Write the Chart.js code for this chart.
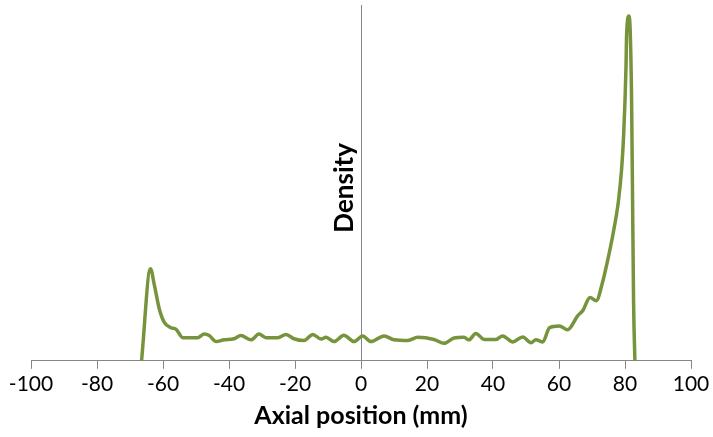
<!DOCTYPE html>
<html>
<head>
<meta charset="utf-8">
<script src="https://cdn.jsdelivr.net/npm/chart.js@4/dist/chart.umd.min.js"></script>
<style>
  html, body { margin: 0; padding: 0; background: #ffffff; }
  canvas { display: block; }
</style>
</head>
<body>
<canvas id="chart" width="713" height="437"></canvas>
<script>
// Axial position along the sample (mm)
const positions = [
  -66.5, -63.8, -62.6, -61.1, -59.6, -57.6, -56.1, -54.0, -49.5, -47.5,
  -46.0, -43.9, -41.5, -38.5, -36.4, -33.3, -30.9, -28.8, -25.2, -22.7,
  -20.3, -17.3, -14.6, -12.1, -10.6, -8.2, -5.2, -2.1, 0.5, 3.0,
  7.0, 10.0, 14.2, 17.2, 22.1, 25.2, 28.2, 31.2, 32.7, 34.8,
  37.3, 40.9, 42.9, 46.0, 49.0, 51.5, 53.0, 55.1, 57.1, 60.1,
  62.6, 65.7, 67.2, 69.4, 71.3, 73.2, 74.5, 76.3, 78.0, 79.0,
  79.6, 80.0, 80.3, 80.5, 81.2, 81.6, 82.0, 82.3, 82.6, 83.0
];

// Relative density at each position
const density = [
  0.000, 0.259, 0.212, 0.145, 0.108, 0.093, 0.089, 0.065, 0.065, 0.075,
  0.071, 0.054, 0.059, 0.062, 0.071, 0.059, 0.075, 0.065, 0.065, 0.074,
  0.062, 0.057, 0.074, 0.061, 0.066, 0.054, 0.072, 0.054, 0.070, 0.054,
  0.070, 0.059, 0.057, 0.066, 0.060, 0.049, 0.064, 0.066, 0.059, 0.077,
  0.060, 0.060, 0.070, 0.053, 0.067, 0.051, 0.059, 0.053, 0.093, 0.098,
  0.087, 0.127, 0.141, 0.178, 0.169, 0.221, 0.272, 0.353, 0.448, 0.542,
  0.637, 0.731, 0.825, 0.920, 0.969, 0.920, 0.731, 0.448, 0.164, 0.000
];

// X axis tick labels
const xTicks = [-100, -80, -60, -40, -20, 0, 20, 40, 60, 80, 100];

const xTitle = 'Axial position (mm)';
const yTitle = 'Density';

const axisGrey = '#868686';
const lineGreen = '#77933C';
const fontFamily = 'Lato, "Liberation Sans", sans-serif';

// Y-axis title drawn beside the axis that crosses at x = 0
const yAxisTitle = {
  id: 'yAxisTitle',
  afterDraw(chart) {
    const { ctx, chartArea, scales } = chart;
    const x0 = scales.x.getPixelForValue(0);
    ctx.save();
    ctx.translate(x0 - 8, (chartArea.top + chartArea.bottom) / 2 + 5);
    ctx.rotate(-Math.PI / 2);
    ctx.font = 'bold 26px ' + fontFamily;
    ctx.fillStyle = '#000000';
    ctx.textAlign = 'center';
    ctx.textBaseline = 'alphabetic';
    ctx.fillText(yTitle, 0, 0);
    ctx.restore();
  }
};

new Chart(document.getElementById('chart'), {
  type: 'line',
  data: {
    datasets: [{
      data: positions.map((x, i) => ({ x: x, y: density[i] })),
      borderColor: lineGreen,
      borderWidth: 3.5,
      pointRadius: 0,
      fill: false,
      cubicInterpolationMode: 'monotone'
    }]
  },
  options: {
    responsive: false,
    animation: false,
    devicePixelRatio: 1,
    layout: { padding: { left: 31, right: 22, top: 5, bottom: 6 } },
    plugins: {
      legend: { display: false },
      tooltip: { enabled: false }
    },
    scales: {
      x: {
        type: 'linear',
        min: -100,
        max: 100,
        afterBuildTicks: (scale) => { scale.ticks = xTicks.map(v => ({ value: v })); },
        ticks: {
          color: '#000000',
          font: { family: fontFamily, size: 21 },
          padding: 3,
          maxRotation: 0
        },
        grid: {
          drawOnChartArea: false,
          tickLength: 8,
          color: axisGrey,
          lineWidth: 1
        },
        border: { color: axisGrey, width: 1 },
        title: {
          display: true,
          text: xTitle,
          color: '#000000',
          font: { family: fontFamily, size: 25, weight: 'bold' },
          padding: { top: 1, bottom: 0 }
        }
      },
      y: {
        position: { x: 0 },
        min: 0,
        max: 1,
        ticks: { display: false },
        grid: { drawOnChartArea: false, drawTicks: false },
        border: { color: axisGrey, width: 1 }
      }
    }
  },
  plugins: [yAxisTitle]
});
</script>
</body>
</html>
